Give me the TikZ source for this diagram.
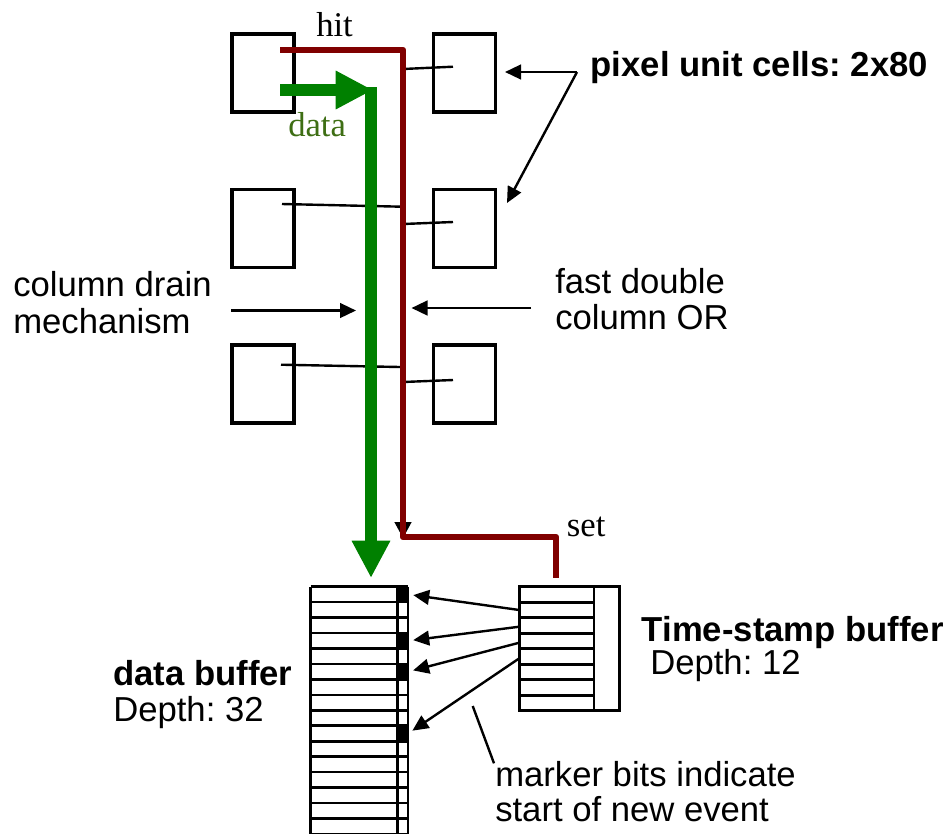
\documentclass[tikz,border=0pt]{standalone}
\usepackage{fontspec}
\setmainfont{Liberation Sans}
\newfontfamily\serifx{Liberation Serif}
\usetikzlibrary{arrows.meta}
\definecolor{wirered}{HTML}{800000}
\definecolor{datagreen}{HTML}{008000}
\definecolor{labelgreen}{RGB}{62,110,20}
\frenchspacing
\tikzset{
  cell/.style={draw, line width=2.4pt, minimum width=46.5pt, minimum height=58.5pt, inner sep=0pt},
  wire/.style={line width=1.8pt},
  blackarrow/.style={line width=1.8pt, -{Triangle[length=12pt,width=11pt]}},
  redwire/.style={draw=wirered, line width=4.8pt, line join=round},
  greenarrow/.style={draw=datagreen, line width=9pt, -{Triangle[length=28pt,width=27pt]}},
  buf/.style={line width=2pt},
  marker/.style={fill=black, inner sep=0pt, minimum width=8pt, minimum height=11.6pt},
  lbl/.style={anchor=base west, inner sep=0pt, font=\fontsize{26}{27}\selectfont},
  boldlbl/.style={anchor=base west, inner sep=0pt, font=\fontsize{26}{27}\selectfont\bfseries},
  seriflbl/.style={anchor=base west, inner sep=0pt, font=\serifx\fontsize{26}{27}\selectfont}
}
\begin{document}
\begin{tikzpicture}[x=0.75pt,y=-0.75pt]
\useasboundingbox (0,0) rectangle (948,833);

% pixel cells
\node[cell] (L1) at (263,73) {};
\node[cell] (R1) at (464.5,73) {};
\node[cell] (L2) at (263,228.5) {};
\node[cell] (R2) at (464.5,228.5) {};
\node[cell] (L3) at (263,384) {};
\node[cell] (R3) at (464.5,384) {};

% wires from cells to the OR line
\coordinate (w1a) at (403,69);   \coordinate (w1b) at (453,66.7);
\coordinate (w2a) at (282,204);  \coordinate (w2b) at (402,206.7);
\coordinate (w3a) at (403,224);  \coordinate (w3b) at (453,222);
\coordinate (w4a) at (281,364.7);\coordinate (w4b) at (400,367);
\coordinate (w5a) at (403,382);  \coordinate (w5b) at (453,380);
\draw[wire] (w1a) -- (w1b);
\draw[wire] (w2a) -- (w2b);
\draw[wire] (w3a) -- (w3b);
\draw[wire] (w4a) -- (w4b);
\draw[wire] (w5a) -- (w5b);

% small black arrow at bottom of OR line
\coordinate (orA) at (403,505);
\coordinate (orB) at (403,538);
\draw[line width=1pt, -{Triangle[length=12pt,width=12.75pt]}] (orA) -- (orB);

% hit / OR line (red)
\coordinate (hitS) at (280,50);
\coordinate (hitC) at (403,50);
\coordinate (redB) at (403,537);
\coordinate (setC) at (556,537);
\coordinate (setE) at (556,578);
\draw[redwire] (hitS) -- (hitC) -- (redB) -- (setC) -- (setE);

% data (green)
\coordinate (dataS) at (280,90);
\coordinate (dataT) at (373,90);
\coordinate (drainS) at (371,87);
\coordinate (drainE) at (371,578);
\draw[greenarrow] (dataS) -- (dataT);
\draw[greenarrow] (drainS) -- (drainE);

% side arrows
\coordinate (cdS) at (231,310.5); \coordinate (cdE) at (356,310.5);
\coordinate (orS) at (531,308);   \coordinate (orE) at (411.5,308);
\draw[blackarrow] (cdS) -- (cdE);
\draw[blackarrow] (orS) -- (orE);

\coordinate (pxS) at (577,72);
\coordinate (pxE1) at (505,72);
\coordinate (pxE2) at (507,203);
\draw[blackarrow] (pxS) -- (pxE1);
\draw[blackarrow] (pxS) -- (pxE2);

% data buffer
\begin{scope}
\clip (300,580) rectangle (420,833);
\foreach \k in {0,...,16} {
  \draw[buf] (310.7,{586.7+15.45*\k}) -- (408,{586.7+15.45*\k});
}
\draw[buf] (310.7,586.7) -- (310.7,840);
\draw[buf] (397.3,586.7) -- (397.3,840);
\draw[buf] (408,586.7) -- (408,840);
\end{scope}
\node[marker] (m1) at (402.65,594.4) {};
\node[marker] (m2) at (402.65,640.75) {};
\node[marker] (m3) at (402.65,671.65) {};
\node[marker] (m4) at (402.65,733.45) {};

% time-stamp buffer
\node[draw, line width=2pt, minimum width=75pt, minimum height=93pt, inner sep=0pt] (ts) at (569.3,648.7) {};
\draw[buf] (594,586.7) -- (594,710.7);
\foreach \k in {1,...,7} {
  \draw[buf] (519.3,{586.7+15.5*\k}) -- (594,{586.7+15.5*\k});
}

% marker arrows
\coordinate (t1) at (519.3,610);
\coordinate (t2) at (519.3,626.7);
\coordinate (t3) at (519.3,642.7);
\coordinate (t4) at (519.3,658.3);
\draw[blackarrow, shorten >=3.75pt] (t1) -- (m1.east);
\draw[blackarrow, shorten >=3.75pt] (t2) -- (m2.east);
\draw[blackarrow, shorten >=3.75pt] (t3) -- (m3.east);
\draw[blackarrow, shorten >=3.75pt] (t4) -- (m4.east);

% pointer line for marker text
\coordinate (mkA) at (472.7,706);
\coordinate (mkB) at (494,763.3);
\draw[line width=1.8pt] (mkA) -- (mkB);

% labels
\node[seriflbl] (hit) at (316,36.7) {hit};
\node[seriflbl, text=labelgreen] (data) at (288,136.7) {data};
\node[seriflbl] (set) at (566.7,536) {set};
\node[boldlbl] (pix) at (590.5,76) {pixel unit cells: 2x80};
\node[lbl] (cd1) at (13,296.7) {column drain};
\node[lbl] (cd2) at (13,333) {mechanism};
\node[lbl] (fo1) at (555,293) {fast double};
\node[lbl] (fo2) at (555,329) {column OR};
\node[boldlbl] (tsl) at (641.7,641.7) {Time-stamp buffer};
\node[lbl] (tsd) at (650,674) {Depth: 12};
\node[boldlbl] (dbl) at (113,685) {data buffer};
\node[lbl] (dbd) at (113,721.7) {Depth: 32};
\node[lbl] (mk1) at (495,786.7) {marker bits indicate};
\node[lbl] (mk2) at (495,821.7) {start of new event};
\end{tikzpicture}
\end{document}
